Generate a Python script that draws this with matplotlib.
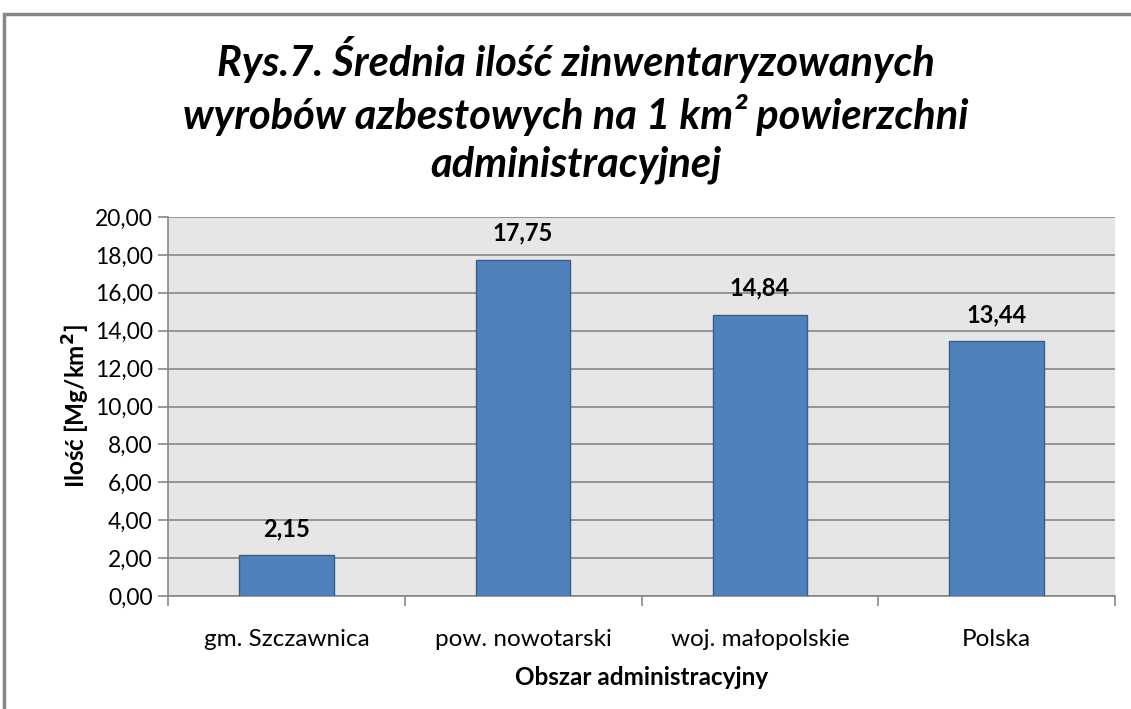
import matplotlib.pyplot as plt
from matplotlib.patches import Rectangle
from matplotlib.ticker import FuncFormatter

plt.rcParams['font.family'] = ['Lato', 'DejaVu Sans']

categories = ["gm. Szczawnica", "pow. nowotarski", "woj. małopolskie", "Polska"]
values = [2.15, 17.75, 14.84, 13.44]
y_ticks = [0, 2, 4, 6, 8, 10, 12, 14, 16, 18, 20]

W, H = 1131, 709
fig = plt.figure(figsize=(W / 100, H / 100), dpi=100)

# outer chart border
fig.patches.append(Rectangle((4 / W, -0.01), 1.0, 1 - 14 / H + 0.01,
                             transform=fig.transFigure, fill=False,
                             edgecolor="#878787", linewidth=2.5))

left, right, top, bottom = 168, 1115, 217, 596
ax = fig.add_axes([left / W, 1 - bottom / H, (right - left) / W, (bottom - top) / H])
ax.set_facecolor("#E6E6E6")

x = list(range(len(categories)))
bars = ax.bar(x, values, width=0.4, color="#4F81BD", edgecolor="#385D8A", linewidth=1, zorder=3)

for xi, v in zip(x, values):
    ax.text(xi, v + 0.8, f"{v:.2f}".replace(".", ","), ha="center", va="bottom",
            fontsize=17, fontweight="bold", zorder=4)

ax.set_xlim(-0.5, len(categories) - 0.5)
ax.set_ylim(0, 20)
ax.set_yticks(y_ticks)
ax.yaxis.set_major_formatter(FuncFormatter(lambda v, p: f"{v:.2f}".replace(".", ",")))
ax.grid(axis="y", color="#878787", linewidth=1.2, zorder=1)

ax.set_xticks(x)
ax.set_xticklabels(categories, fontsize=17.5)
ax.set_xticks([i - 0.5 for i in range(len(categories) + 1)], minor=True)
ax.tick_params(axis="x", which="major", length=0, pad=24)
ax.tick_params(axis="x", which="minor", length=7, color="#878787", width=1.2)
ax.tick_params(axis="y", labelsize=16.4, length=7, color="#878787", width=1.2, pad=4)

for s in ["top", "right"]:
    ax.spines[s].set_visible(False)
for s in ["left", "bottom"]:
    ax.spines[s].set_color("#878787")
    ax.spines[s].set_linewidth(1.2)

ax.set_xlabel("Obszar administracyjny", fontsize=17.5, fontweight="bold", labelpad=11)
ax.set_ylabel("Ilość [Mg/km$^\\mathbf{2}$]", fontsize=17.5, fontweight="bold", labelpad=2)

fig.text(0.509, 1 - 110 / H,
         "Rys.7. Średnia ilość zinwentaryzowanych\nwyrobów azbestowych na 1 km² powierzchni\nadministracyjnej",
         ha="center", va="center", fontsize=30, fontweight="bold", fontstyle="italic",
         linespacing=1.32)

fig.savefig("out.png", dpi=100)
